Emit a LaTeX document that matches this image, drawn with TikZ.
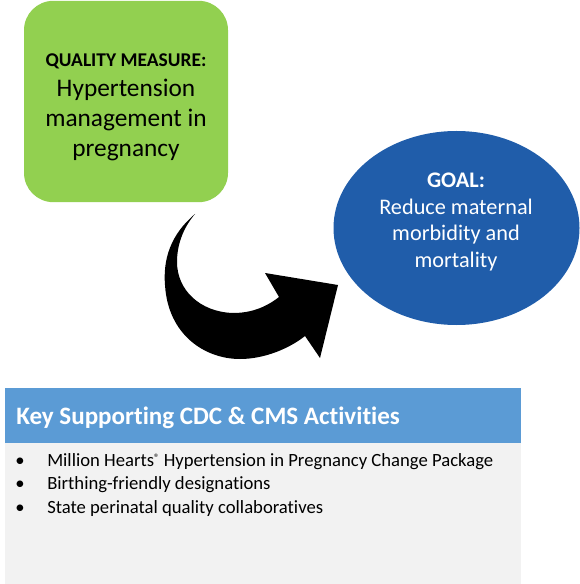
\documentclass[tikz,border=0pt]{standalone}
\usepackage{fontspec}
\setmainfont{Carlito}[Ligatures=NoCommon]
\usetikzlibrary{shapes.geometric}
\definecolor{qgreen}{RGB}{146,208,80}
\definecolor{goalblue}{RGB}{32,93,170}
\definecolor{headblue}{RGB}{91,155,213}
\definecolor{bodygray}{RGB}{242,242,242}
\tikzset{
  qbox/.style={fill=qgreen, rounded corners=22pt, minimum width=153pt, minimum height=151pt, inner sep=0pt},
  goalshape/.style={ellipse, fill=goalblue, minimum width=184.5pt, minimum height=145.5pt, inner sep=0pt},
  bigtext/.style={align=center, inner sep=0pt},
  bullettext/.style={anchor=base west, inner sep=0pt, font=\fontsize{14}{17.6}\selectfont},
}
\newcommand{\regmark}{\raisebox{0.55ex}{\fontsize{8}{8}\selectfont ®}}
\begin{document}
\begin{tikzpicture}[x=0.75pt,y=-0.75pt]
\useasboundingbox (0,0) rectangle (580,584);
% quality measure box
\node (qm) [qbox] at (126,101.5) {};
\node (qmtext) [bigtext, font=\fontsize{19}{22.5}\selectfont] at (126,107)
  {{\bfseries\fontsize{14.6}{22.5}\selectfont QUALITY MEASURE:}\\Hypertension\\management in\\pregnancy};
% goal ellipse
\node (goal) [goalshape] at (456.5,228) {};
\node (goaltext) [bigtext, text=white, font=\fontsize{16.7}{20.2}\selectfont] at (456,222)
  {{\bfseries GOAL:}\\Reduce maternal\\morbidity and\\mortality};
% curved arrow
\fill[black] (195,214) .. controls (170,235) and (163,260) .. (165,285)
  .. controls (168,335) and (205,359) .. (240,359)
  .. controls (265,359) and (290,348) .. (305,336)
  -- (320,358) -- (338,285) -- (265,273) -- (279,297)
  .. controls (265,308) and (250,313) .. (233,313)
  .. controls (200,312) and (177,290) .. (177,262)
  .. controls (177,245) and (183,228) .. (195,214) -- cycle;
% bottom panel
\fill[bodygray] (5,443) rectangle (521,584);
\fill[headblue] (5,388) rectangle (521,443);
\node (head) [anchor=base west, inner sep=0pt, text=white, font=\bfseries\fontsize{18.8}{22}\selectfont] at (16,424)
  {Key Supporting CDC \& CMS Activities};
\node (b1) [bullettext] at (15,466)
  {\makebox[24pt][l]{•}Million Hearts\regmark{} Hypertension in Pregnancy Change Package};
\node (b2) [bullettext] at (15,489.5)
  {\makebox[24pt][l]{•}Birthing-friendly designations};
\node (b3) [bullettext] at (15,513)
  {\makebox[24pt][l]{•}State perinatal quality collaboratives};
\end{tikzpicture}
\end{document}
